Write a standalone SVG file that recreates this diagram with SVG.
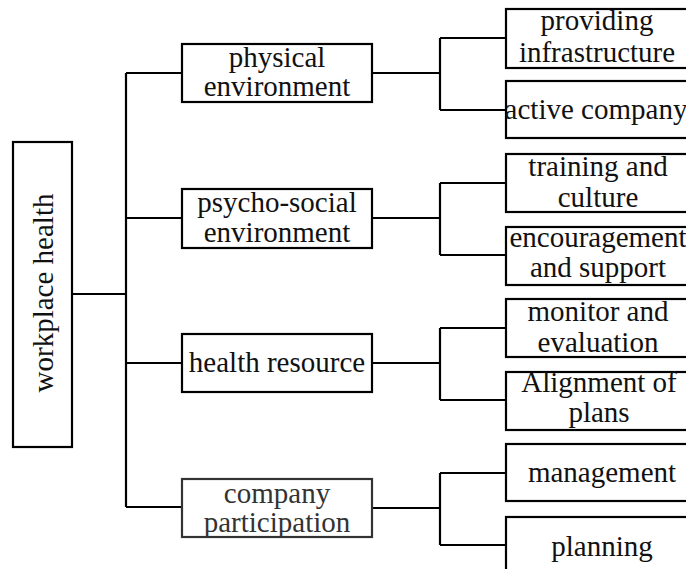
<svg xmlns="http://www.w3.org/2000/svg" width="686" height="569" viewBox="0 0 686 569">
<style>
.box{fill:#fff;stroke:#000;stroke-width:2.2}
.gbox{fill:#fff;stroke:#333;stroke-width:2.2}
.t{font-family:'Liberation Serif','DejaVu Serif',serif;font-size:29px;fill:#111;text-anchor:middle}
.gt{fill:#333}
.c{fill:none;stroke:#000;stroke-width:2.2}
</style>
<rect width="686" height="569" fill="#fff"/>
<g id="connectors">
<path class="c" d="M72 294H126M126 73V507M126 73H182M126 218H182M126 363H182M126 507H182"/>
<path class="c" d="M372 73H440M440 38V110M440 38H506M440 110H506"/>
<path class="c" d="M372 218H440M440 183V255M440 183H506M440 255H506"/>
<path class="c" d="M372 363H440M440 328V400M440 328H506M440 400H506"/>
<path class="c" d="M372 508H440M440 473V545M440 473H506M440 545H506"/>
</g>
<g id="root">
<rect class="box" x="13" y="142" width="59" height="305"/>
<text class="t" transform="translate(53,293) rotate(-90)">workplace health</text>
</g>
<g id="physical">
<rect class="box" x="182" y="44" width="190" height="58"/>
<text class="t" x="277" y="67">physical</text>
<text class="t" x="277" y="96">environment</text>
</g>
<g id="psycho">
<rect class="box" x="182" y="189" width="190" height="59"/>
<text class="t" x="277" y="212">psycho-social</text>
<text class="t" x="277" y="242">environment</text>
</g>
<g id="health">
<rect class="box" x="182" y="334" width="190" height="58"/>
<text class="t" x="277" y="372">health resource</text>
</g>
<g id="company">
<rect class="gbox" x="182" y="479" width="190" height="58"/>
<text class="t gt" x="277" y="503">company</text>
<text class="t gt" x="277" y="532">participation</text>
</g>
<g id="providing">
<rect class="box" x="506" y="9" width="190" height="59"/>
<text class="t" x="597" y="30">providing</text>
<text class="t" x="597" y="62">infrastructure</text>
</g>
<g id="active">
<rect class="box" x="506" y="81" width="190" height="57"/>
<text class="t" x="596" y="119">active company</text>
</g>
<g id="training">
<rect class="box" x="506" y="154" width="190" height="58"/>
<text class="t" x="598" y="176">training and</text>
<text class="t" x="598" y="207">culture</text>
</g>
<g id="encouragement">
<rect class="box" x="506" y="227" width="190" height="58"/>
<text class="t" x="598" y="247">encouragement</text>
<text class="t" x="598" y="277">and support</text>
</g>
<g id="monitor">
<rect class="box" x="506" y="299" width="190" height="58"/>
<text class="t" x="598" y="321">monitor and</text>
<text class="t" x="598" y="352">evaluation</text>
</g>
<g id="alignment">
<rect class="box" x="506" y="372" width="190" height="58"/>
<text class="t" x="599" y="392">Alignment of</text>
<text class="t" x="599" y="422">plans</text>
</g>
<g id="management">
<rect class="box" x="506" y="444" width="190" height="57"/>
<text class="t" x="602" y="482">management</text>
</g>
<g id="planning">
<rect class="box" x="506" y="517" width="190" height="70"/>
<text class="t" x="602" y="556">planning</text>
</g>
</svg>
